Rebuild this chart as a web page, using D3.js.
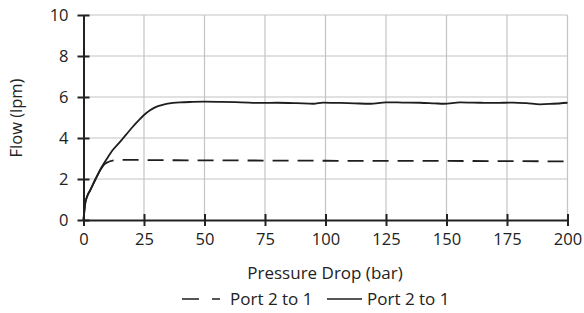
<!DOCTYPE html>
<html>
<head>
<meta charset="utf-8">
<script src="https://cdn.jsdelivr.net/npm/d3@7"></script>
<style>
  body { margin: 0; background: #fff; }
  svg { display: block; }
  text { font-family: "Open Sans", "Noto Sans", sans-serif; fill: #222; }
</style>
</head>
<body>
<svg id="chart" width="584" height="313"></svg>
<script>
// solid series (Port 2 to 1)
var solidP = [0, 0.7, 1.5, 2.8, 5, 7.6, 10, 12, 15, 17.5, 20, 22.5, 25, 27.5, 30, 33, 37, 40, 45, 50,
              57, 65, 74, 80, 88, 95, 99, 106, 112, 118.5, 125, 132, 139, 145, 149, 155.6, 164, 170,
              177.6, 183, 188.7, 194, 200];
var solidF = [0, 0.8, 1.15, 1.46, 2.0, 2.6, 3.05, 3.4, 3.8, 4.15, 4.5, 4.82, 5.12, 5.35, 5.52, 5.63, 5.71, 5.74, 5.76, 5.77,
              5.76, 5.74, 5.71, 5.72, 5.7, 5.67, 5.73, 5.71, 5.69, 5.67, 5.74, 5.73, 5.72, 5.69, 5.67, 5.74, 5.72, 5.71,
              5.73, 5.7, 5.64, 5.67, 5.72];
// dashed series (Port 2 to 1)
var dashP = [0, 0.7, 1.5, 2.8, 5, 7, 8.5, 10, 12, 14, 17, 20, 30, 50, 75, 100, 125, 150, 175, 200];
var dashF = [0, 0.8, 1.15, 1.46, 2.0, 2.45, 2.7, 2.82, 2.9, 2.92, 2.93, 2.93, 2.92, 2.91, 2.9, 2.89, 2.88, 2.88, 2.87, 2.86];

var xTicks = [0, 25, 50, 75, 100, 125, 150, 175, 200];
var yTicks = [0, 2, 4, 6, 8, 10];
var legendLabels = ["Port 2 to 1", "Port 2 to 1"];

var svg = d3.select("#chart");
var plotLeft = 83.5, plotRight = 567.5, plotTop = 15, plotBottom = 220;

var x = d3.scaleLinear().domain([0, 200]).range([plotLeft, plotRight]);
var y = d3.scaleLinear().domain([0, 10]).range([plotBottom, plotTop]);

// grid
var grid = svg.append("g");
grid.selectAll(".vg").data(xTicks.slice(1)).enter().append("line")
    .attr("x1", function (d) { return x(d); }).attr("x2", function (d) { return x(d); })
    .attr("y1", plotTop).attr("y2", plotBottom)
    .style("stroke", "#c4c4c4").style("stroke-width", 1.2);
grid.selectAll(".hg").data(yTicks.slice(1)).enter().append("line")
    .attr("x1", plotLeft).attr("x2", plotRight)
    .attr("y1", function (d) { return y(d); }).attr("y2", function (d) { return y(d); })
    .style("stroke", "#c4c4c4").style("stroke-width", 1.2);

// axes with ticks crossing the axis line
var xAxis = svg.append("g").attr("transform", "translate(0," + plotBottom + ")")
    .call(d3.axisBottom(x).tickValues(xTicks).tickSizeInner(6).tickSizeOuter(0).tickPadding(7));
xAxis.selectAll(".tick line").attr("y1", -6).style("stroke", "#222").style("stroke-width", 2);
xAxis.select(".domain").style("stroke", "#222").style("stroke-width", 2);

var yAxis = svg.append("g").attr("transform", "translate(" + plotLeft + ",0)")
    .call(d3.axisLeft(y).tickValues(yTicks).tickSizeInner(6).tickSizeOuter(0).tickPadding(9));
yAxis.selectAll(".tick line").attr("x1", 6).style("stroke", "#222").style("stroke-width", 2);
yAxis.select(".domain").style("stroke", "#222").style("stroke-width", 2);

svg.selectAll(".tick text").style("font-size", "16.5px").style("fill", "#222")
    .style("font-family", "'Open Sans', 'Noto Sans', sans-serif");

// titles
svg.append("text").attr("x", 325).attr("y", 279)
    .attr("text-anchor", "middle").style("font-size", "17px").text("Pressure Drop (bar)");
svg.append("text").attr("transform", "translate(22,118) rotate(-90)")
    .attr("text-anchor", "middle").style("font-size", "16.5px").text("Flow (lpm)");

// lines
var line = d3.line()
    .x(function (d) { return x(d[0]); })
    .y(function (d) { return y(d[1]); })
    .curve(d3.curveMonotoneX);

var solidData = solidP.map(function (p, i) { return [p, solidF[i]]; });
var dashData = dashP.map(function (p, i) { return [p, dashF[i]]; });

svg.append("path").attr("d", line(solidData))
    .style("fill", "none").style("stroke", "#1e1e1e").style("stroke-width", 1.8);

var dashPath = svg.append("path").attr("d", line(dashData))
    .style("fill", "none").style("stroke", "#1e1e1e").style("stroke-width", 1.8);

// the first bend of the dashed curve is drawn unbroken, then 16/9 dashes
var headPath = svg.append("path").attr("d", line(dashData.filter(function (d) { return d[0] <= 12; })));
var head = headPath.node().getTotalLength() + 1;
headPath.remove();
var total = dashPath.node().getTotalLength();
var pattern = [head, 9];
var run = head + 9;
while (run < total + 30) { pattern.push(16, 9); run += 25; }
dashPath.style("stroke-dasharray", pattern.join(","));

// legend
var legY = 299;
svg.append("line").attr("x1", 182).attr("x2", 220).attr("y1", legY).attr("y2", legY)
    .style("stroke", "#1e1e1e").style("stroke-width", 1.5).style("stroke-dasharray", "17,13");
svg.append("text").attr("x", 230).attr("y", 305).style("font-size", "17px").text(legendLabels[0]);
svg.append("line").attr("x1", 327).attr("x2", 362).attr("y1", legY).attr("y2", legY)
    .style("stroke", "#1e1e1e").style("stroke-width", 1.5);
svg.append("text").attr("x", 367).attr("y", 305).style("font-size", "17px").text(legendLabels[1]);
</script>
</body>
</html>
